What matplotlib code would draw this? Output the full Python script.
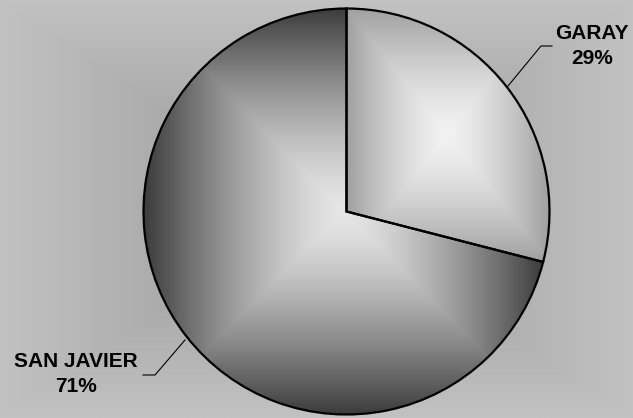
import matplotlib.pyplot as plt
import numpy as np

# data
labels = ["GARAY", "SAN JAVIER"]
shares = [29, 71]

# grey shading per slice: (center, edge)
slice_shades = [(242, 160), (230, 60)]

W, H = 633, 418
fig = plt.figure(figsize=(W / 100, H / 100), dpi=100)
ax = fig.add_axes([0, 0, 1, 1])


def rect_gradient(c_center, c_edge, power=1.0, n=400):
    xs = np.linspace(-1, 1, n)
    gx, gy = np.meshgrid(xs, xs)
    t = np.maximum(np.abs(gx), np.abs(gy)) ** power
    v = (c_center + (c_edge - c_center) * t) / 255.0
    return np.dstack([v, v, v])


# background "from center" gradient
bg = rect_gradient(150, 194)
ax.imshow(bg, extent=[0, W, 0, H], origin="upper", zorder=0, aspect="auto")

center = (346.5, H - 211.5)
radius = 203
wedges, _ = ax.pie(
    shares,
    startangle=90,
    counterclock=False,
    center=center,
    radius=radius,
    wedgeprops=dict(facecolor="none", edgecolor="black", linewidth=1.6, zorder=3),
    frame=True,
)
ax.set_xlim(0, W)
ax.set_ylim(0, H)
ax.set_aspect("auto")
ax.axis("off")

for wedge, (cc, ce) in zip(wedges, slice_shades):
    ext = wedge.get_path().get_extents()
    img = rect_gradient(cc, ce, power=1.4)
    im = ax.imshow(img, extent=[ext.x0, ext.x1, ext.y0, ext.y1], origin="upper",
                   zorder=2, aspect="auto")
    im.set_clip_path(wedge)

# labels with leader lines
label_pos = [(592, H - 46), (76, H - 374)]
leaders = [
    [(552, H - 46), (541, H - 46), (508, H - 86)],
    [(143, H - 375), (155, H - 375), (185, H - 340)],
]
for name, pct, (lx, ly), pts in zip(labels, shares, label_pos, leaders):
    ax.text(lx, ly, f"{name}\n{pct}%", ha="center", va="center",
            fontsize=15, fontweight="bold", family="Liberation Sans",
            linespacing=1.4, zorder=4)
    px, py = zip(*pts)
    ax.plot(px, py, color="black", linewidth=0.8, zorder=4)

fig.savefig("out.png", dpi=100)
